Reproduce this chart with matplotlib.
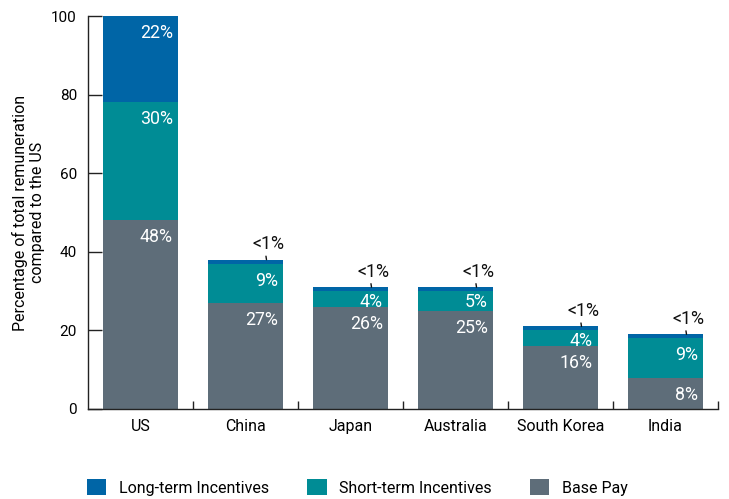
import matplotlib
matplotlib.use("Agg")
import matplotlib.pyplot as plt
from matplotlib.patches import Patch
import numpy as np

categories = ["US", "China", "Japan", "Australia", "South Korea", "India"]
base_pay = [48, 27, 26, 25, 16, 8]
short_term = [30, 10, 4, 5, 4, 10]
long_term = [22, 1, 1, 1, 1, 1]
base_labels = ["48%", "27%", "26%", "25%", "16%", "8%"]
short_labels = ["30%", "9%", "4%", "5%", "4%", "9%"]
long_labels = ["22%", "<1%", "<1%", "<1%", "<1%", "<1%"]
yticks = [0, 20, 40, 60, 80, 100]
series_names = ["Long-term Incentives", "Short-term Incentives", "Base Pay"]

c_long = "#0065A6"
c_short = "#008C95"
c_base = "#5E6D79"

plt.rcParams['font.family'] = ['Roboto', 'DejaVu Sans']

fig = plt.figure(figsize=(7.29, 4.99), dpi=100)
ax = fig.add_axes([88/729, 1-409/499, (718-88)/729, (409-16)/499])

x = np.arange(len(categories))
w = 0.72
base = np.array(base_pay)
short = np.array(short_term)
long_ = np.array(long_term)

ax.bar(x, base, w, color=c_base)
ax.bar(x, short, w, bottom=base, color=c_short)
ax.bar(x, long_, w, bottom=base + short, color=c_long)

fs = 12.8
def inside_label(xi, top, h, text):
    off = -8 if h >= 6 else -1.5
    ax.annotate(text, xy=(xi + w/2, top), xytext=(-4, off * 0.72),
                textcoords='offset points', ha='right', va='top',
                color='white', fontsize=fs)

for i in range(len(categories)):
    inside_label(x[i], base[i], base[i], base_labels[i])
    inside_label(x[i], base[i] + short[i], short[i], short_labels[i])
    top = base[i] + short[i] + long_[i]
    if long_[i] >= 6:
        inside_label(x[i], top, long_[i], long_labels[i])
    else:
        ax.annotate(long_labels[i], xy=(x[i] + 0.2, top), xytext=(1, 4.5),
                    textcoords='offset points', ha='center', va='bottom',
                    color='#111111', fontsize=fs,
                    arrowprops=dict(arrowstyle='-', color='#111111', lw=1.0,
                                    shrinkA=0, shrinkB=0, relpos=(0.42, 0.08)))

ax.set_xlim(-0.5, 5.5)
ax.set_ylim(0, 100)
ax.set_yticks(yticks)
ax.set_xticks(x)
ax.set_xticklabels(categories, fontsize=11.5)
ax.set_xticks(np.arange(0.5, 6.0, 1.0), minor=True)
ax.tick_params(axis='x', which='major', length=0, pad=7)
ax.tick_params(axis='x', which='minor', length=6, direction='in', width=1, color='#222222')
ax.tick_params(axis='y', which='major', length=10, direction='in', width=1,
               color='#222222', labelsize=11, pad=8)
for s in ['top', 'right']:
    ax.spines[s].set_visible(False)
for s in ['left', 'bottom']:
    ax.spines[s].set_color('#222222')
    ax.spines[s].set_linewidth(1)

ax.set_ylabel("Percentage of total remuneration\ncompared to the US", fontsize=11.5,
              linespacing=1.15)
ax.yaxis.set_label_coords(-0.068, 0.5)

handles = [Patch(facecolor=c_long), Patch(facecolor=c_short), Patch(facecolor=c_base)]
fig.legend(handles, series_names, loc='upper left', ncol=3,
           bbox_to_anchor=(87/729, 1 - 479/499), frameon=False, fontsize=11.5,
           borderpad=0, borderaxespad=0,
           handlelength=1.2, handleheight=1.2, columnspacing=2.4, handletextpad=0.8)

fig.savefig("out.png", dpi=100)
